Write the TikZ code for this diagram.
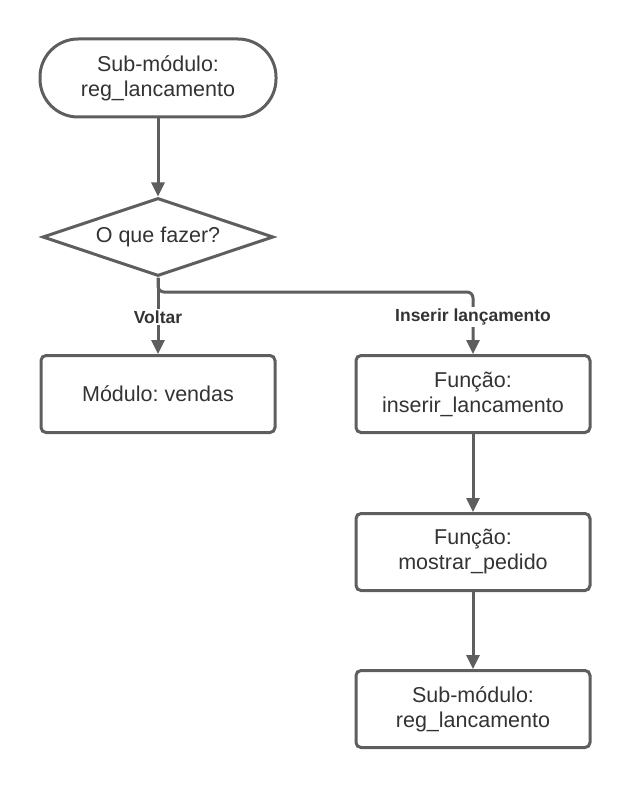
\documentclass[tikz,border=0pt]{standalone}
\usepackage{fontspec}
\setmainfont{Liberation Sans}
\usetikzlibrary{arrows.meta,shapes.geometric}
\definecolor{ln}{HTML}{5E5E5E}
\definecolor{tx}{HTML}{333333}
\frenchspacing
\begin{document}
\begin{tikzpicture}[x=1pt,y=-1pt,
 box/.style={draw=ln,line width=3pt,rounded corners=5pt,minimum width=234pt,minimum height=77pt,align=center,text=tx,font=\fontsize{21.5}{25}\selectfont,inner sep=0pt},
 term/.style={box,rounded corners=38pt,minimum height=78pt,minimum width=236pt},
 dec/.style={draw=ln,line width=3pt,diamond,aspect=3,minimum width=231pt,minimum height=78pt,inner sep=0pt,text=tx,font=\fontsize{21.5}{25}\selectfont},
 arr/.style={draw=ln,line width=3pt,-{Triangle[length=14pt,width=13pt]}},
 lbl/.style={fill=white,text=tx,font=\bfseries\fontsize{17.5}{20}\selectfont,inner sep=2pt}]
\useasboundingbox (0,0) rectangle (631,789);
\node[term] (start) at (158,78) {Sub-módulo:\\reg\_lancamento};
\node[dec] (dec) at (158,237) {O que fazer?};
\node[box] (vend) at (158,394) {Módulo: vendas};
\node[box] (ins) at (473,394) {Função:\\inserir\_lancamento};
\node[box] (most) at (473,552) {Função:\\mostrar\_pedido};
\node[box] (reg) at (473,709) {Sub-módulo:\\reg\_lancamento};
\coordinate (br) at (473,292);
\draw[arr] (start) -- (dec);
\draw[arr] (dec.south) -- (vend.north);
\draw[arr,rounded corners=6pt] (dec.south) |- (br) -- (ins.north);
\draw[arr] (ins) -- (most);
\draw[arr] (most) -- (reg);
\node[lbl] (lv) at (158,317) {Voltar};
\node[lbl] (li) at (473,317) {Inserir lançamento};
\end{tikzpicture}
\end{document}
